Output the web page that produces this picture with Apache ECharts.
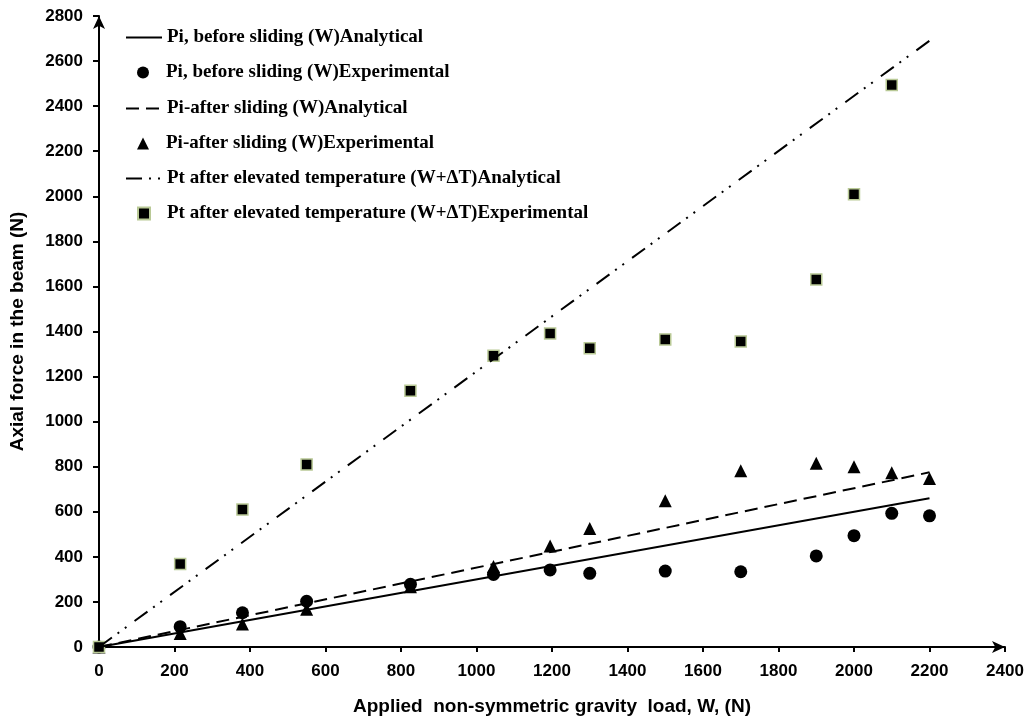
<!DOCTYPE html>
<html>
<head>
<meta charset="utf-8">
<script src="https://cdn.jsdelivr.net/npm/echarts@6/dist/echarts.min.js"></script>
<style>
  html, body { margin: 0; padding: 0; background: #fff; }
  #chart { width: 1030px; height: 723px; }
</style>
</head>
<body>
<div id="chart"></div>
<script>
// applied load W (N) for the test readings
var loadW = [0, 215, 380, 550, 825, 1045, 1195, 1300, 1500, 1700, 1900, 2000, 2100, 2200];
var piBeforeExp = [0, 90, 152, 203, 278, 322, 342, 327, 337, 334, 404, 494, 593, 582];
var piAfterExp = [0, 60, 102, 167, 267, 357, 448, 526, 649, 782, 815, 800, 773, 748];
// temperature readings stop at 2100
var loadWTemp = [0, 215, 380, 550, 825, 1045, 1195, 1300, 1500, 1700, 1900, 2000, 2100];
var ptExp = [0, 368, 610, 810, 1137, 1292, 1391, 1326, 1365, 1356, 1631, 2009, 2494];

// analytical straight lines
var loadAna = [0, 2200];
var piBeforeAna = [0, 660];
var piAfterAna = [0, 775];
var ptAna = [0, 2690];

var xTicks = [0, 200, 400, 600, 800, 1000, 1200, 1400, 1600, 1800, 2000, 2200, 2400];
var yTicks = [0, 200, 400, 600, 800, 1000, 1200, 1400, 1600, 1800, 2000, 2200, 2400, 2600, 2800];

var names = [
    "Pi, before sliding (W)Analytical",
    "Pi, before sliding (W)Experimental",
    "Pi-after sliding (W)Analytical",
    "Pi-after sliding (W)Experimental",
    "Pt after elevated temperature (W+\u0394T)Analytical",
    "Pt after elevated temperature (W+\u0394T)Experimental"
];

function pairs(xs, ys) {
    return xs.map(function (x, i) { return [x, ys[i]]; });
}

var chart = echarts.init(document.getElementById("chart"));

var axisFont = {
    fontFamily: "Liberation Sans, Arial, sans-serif",
    fontWeight: "bold",
    fontSize: 17,
    color: "#000",
    formatter: function (v) { return String(v); }
};

// one legend box per entry, so line keys and marker keys can have their own sizes
var legendTops = [23, 58, 94, 129, 164, 199];
var legends = names.map(function (n, i) {
    var isLine = i % 2 === 0;
    return {
        orient: "vertical",
        left: isLine ? 120 : 132,
        top: legendTops[i],
        itemWidth: isLine ? 36 : 12,
        itemHeight: 12,
        data: [n],
        selectedMode: false,
        itemStyle: isLine ? { opacity: 0 } : {},
        textStyle: {
            fontFamily: "Liberation Serif, Times New Roman, serif",
            fontWeight: "bold",
            fontSize: 19,
            color: "#000",
            padding: isLine ? [0, 0, 0, 0] : [0, 0, 0, 12]
        }
    };
});

chart.setOption({
    animation: false,
    backgroundColor: "#fff",
    grid: { left: 98, right: 25, top: 16, bottom: 76 },
    legend: legends,
    xAxis: {
        type: "value",
        min: xTicks[0],
        max: xTicks[xTicks.length - 1],
        interval: 200,
        name: "Applied  non-symmetric gravity  load, W, (N)",
        nameLocation: "middle",
        nameGap: 50,
        nameTextStyle: {
            fontFamily: "Liberation Sans, Arial, sans-serif",
            fontWeight: "bold",
            fontSize: 19,
            color: "#000"
        },
        axisLine: {
            lineStyle: { color: "#000", width: 2 },
            symbol: ["none", "arrow"],
            symbolSize: [9, 13]
        },
        axisTick: { show: true, length: 5, lineStyle: { color: "#000", width: 2 } },
        axisLabel: Object.assign({ margin: 16 }, axisFont),
        splitLine: { show: false }
    },
    yAxis: {
        type: "value",
        min: yTicks[0],
        max: yTicks[yTicks.length - 1],
        interval: 200,
        name: "Axial force in the beam (N)",
        nameLocation: "middle",
        nameGap: 72,
        nameTextStyle: {
            fontFamily: "Liberation Sans, Arial, sans-serif",
            fontWeight: "bold",
            fontSize: 19,
            color: "#000"
        },
        axisLine: {
            show: true,
            lineStyle: { color: "#000", width: 2 },
            symbol: ["none", "arrow"],
            symbolSize: [9, 13]
        },
        axisTick: { show: true, length: 6, lineStyle: { color: "#000", width: 2 } },
        axisLabel: Object.assign({ margin: 16 }, axisFont),
        splitLine: { show: false }
    },
    series: [
        {
            name: names[0],
            type: "line",
            data: pairs(loadAna, piBeforeAna),
            symbol: "none",
            lineStyle: { color: "#000", width: 2, type: "solid" },
            itemStyle: { color: "#000" }
        },
        {
            name: names[1],
            type: "scatter",
            data: pairs(loadW, piBeforeExp),
            symbol: "circle",
            symbolSize: 13,
            itemStyle: { color: "#000", opacity: 1 }
        },
        {
            name: names[2],
            type: "line",
            data: pairs(loadAna, piAfterAna),
            symbol: "none",
            lineStyle: { color: "#000", width: 2, type: [13, 7] },
            itemStyle: { color: "#000" }
        },
        {
            name: names[3],
            type: "scatter",
            data: pairs(loadW, piAfterExp),
            symbol: "triangle",
            symbolSize: 13,
            itemStyle: { color: "#000", opacity: 1 }
        },
        {
            name: names[4],
            type: "line",
            data: pairs(loadAna, ptAna),
            symbol: "none",
            lineStyle: { color: "#000", width: 2, type: [16, 7, 2, 7, 2, 10] },
            itemStyle: { color: "#000" }
        },
        {
            name: names[5],
            type: "scatter",
            data: pairs(loadWTemp, ptExp),
            symbol: "rect",
            symbolSize: 11,
            itemStyle: { color: "#000", borderColor: "#b9c996", borderWidth: 1.5, opacity: 1 }
        }
    ]
});
</script>
</body>
</html>
